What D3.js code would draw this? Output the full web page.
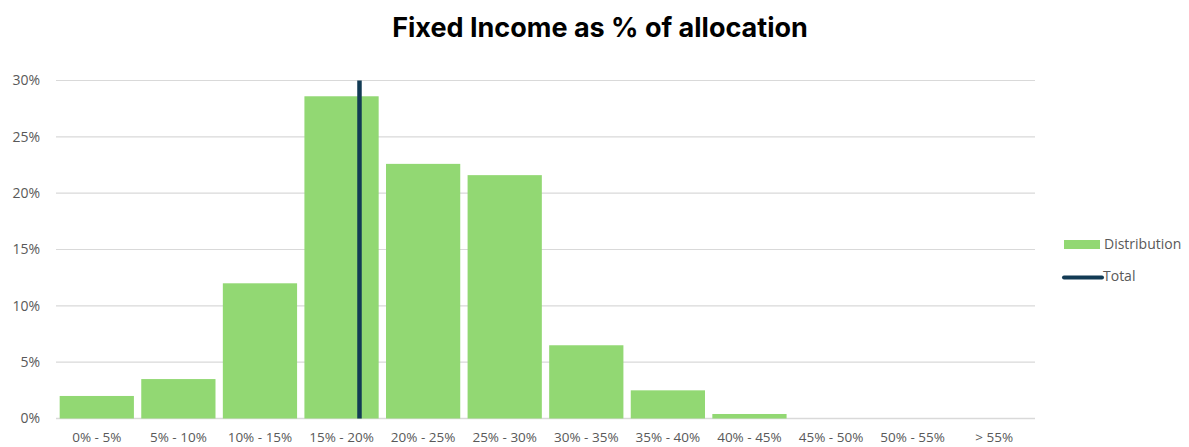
<!DOCTYPE html>
<html>
<head>
<meta charset="utf-8">
<script src="https://cdn.jsdelivr.net/npm/d3@7"></script>
<style>
  body { margin: 0; background: #fff; }
  text { font-family: "Open Sans", "Noto Sans", sans-serif; }
</style>
</head>
<body>
<div id="chart"></div>
<script>
// Data
var categories = ["0% - 5%", "5% - 10%", "10% - 15%", "15% - 20%", "20% - 25%", "25% - 30%",
    "30% - 35%", "35% - 40%", "40% - 45%", "45% - 50%", "50% - 55%", "> 55%"];
var distribution = [2.0, 3.5, 12.0, 28.6, 22.6, 21.6, 6.5, 2.5, 0.4, 0, 0, 0];
var totalValue = 18.6; // average allocation, drawn as vertical line
var yTicks = [0, 5, 10, 15, 20, 25, 30];

var width = 1189, height = 447;
var margin = { top: 80.5, right: 154, bottom: 28.5, left: 56 };
var plotW = width - margin.left - margin.right,
    plotH = height - margin.top - margin.bottom;

var svg = d3.select("#chart").append("svg")
    .attr("width", width).attr("height", height);

// Title
svg.append("text")
    .attr("x", 600).attr("y", 37)
    .attr("text-anchor", "middle")
    .style("font-family", "Inter, 'Open Sans', sans-serif")
    .style("font-size", "27px").style("font-weight", "700").style("fill", "#000")
    .text("Fixed Income as % of allocation");

var g = svg.append("g").attr("transform", "translate(" + margin.left + "," + margin.top + ")");

var x = d3.scaleBand().domain(categories).range([0, plotW]).paddingInner(0.09).paddingOuter(0.045);
var xLin = d3.scaleLinear().domain([0, 60]).range([0, plotW]);
var y = d3.scaleLinear().domain([0, 30]).range([plotH, 0]);

// Gridlines
g.selectAll(".grid").data(yTicks).enter().append("line")
    .attr("x1", 0).attr("x2", plotW)
    .attr("y1", function(d) { return y(d); }).attr("y2", function(d) { return y(d); })
    .style("stroke", "#d9d9d9").style("stroke-width", d => d == 0 ? 1.5 : 1.2);

// Y axis labels
var yAxis = g.append("g").call(d3.axisLeft(y).tickValues(yTicks).tickSize(0).tickPadding(16)
    .tickFormat(function(d) { return d + "%"; }));
yAxis.select(".domain").remove();
yAxis.selectAll("text").style("font-size", "14px").style("fill", "#595959")
    .style("font-family", "'Open Sans', sans-serif");

// Bars
g.selectAll(".bar").data(distribution).enter().append("rect")
    .attr("x", function(d, i) { return x(categories[i]); })
    .attr("width", x.bandwidth())
    .attr("y", function(d) { return y(d); })
    .attr("height", function(d) { return plotH - y(d); })
    .style("fill", "#92d873");

// X axis labels
var xAxis = g.append("g").attr("transform", "translate(0," + plotH + ")")
    .call(d3.axisBottom(x).tickSize(0).tickPadding(14));
xAxis.select(".domain").remove();
xAxis.selectAll("text").style("font-size", "13.5px").style("fill", "#595959")
    .style("font-family", "'Open Sans', sans-serif");

// Total line
g.append("line")
    .attr("x1", xLin(totalValue)).attr("x2", xLin(totalValue))
    .attr("y1", y(30)).attr("y2", y(0))
    .style("stroke", "#123b54").style("stroke-width", 4.5);

// Legend
var leg = svg.append("g").attr("transform", "translate(1064,0)");
leg.append("rect").attr("x", 0).attr("y", 240).attr("width", 36).attr("height", 9)
    .style("fill", "#92d873");
leg.append("text").attr("x", 40).attr("y", 244).attr("dy", "0.35em")
    .style("font-size", "14px").style("fill", "#595959").text("Distribution");
leg.append("line").attr("x1", 0).attr("x2", 38).attr("y1", 277.5).attr("y2", 277.5)
    .style("stroke", "#123b54").style("stroke-width", 4).style("stroke-linecap", "round");
leg.append("text").attr("x", 39).attr("y", 276).attr("dy", "0.35em")
    .style("font-size", "14px").style("fill", "#595959").text("Total");
</script>
</body>
</html>
